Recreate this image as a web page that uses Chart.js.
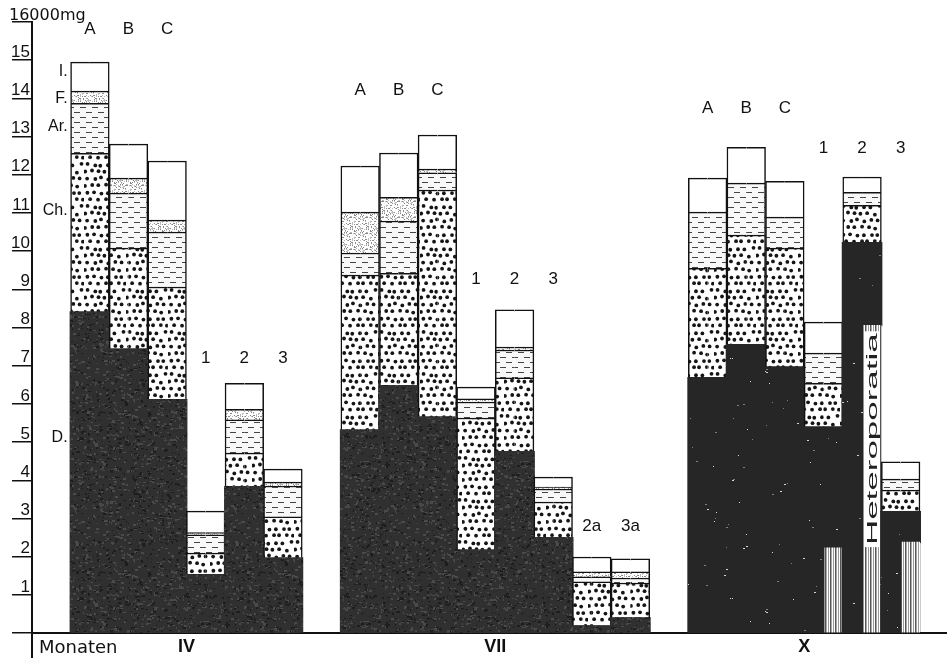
<!DOCTYPE html>
<html>
<head>
<meta charset="utf-8">
<script src="https://cdn.jsdelivr.net/npm/chart.js@4/dist/chart.umd.min.js"></script>
<style>
  html, body { margin: 0; padding: 0; background: #fff; }
  #wrap { width: 947px; height: 658px; position: relative; }
</style>
</head>
<body>
<div id="wrap"><canvas id="chart"></canvas></div>
<script>
// month groups and the bars in each (one empty slot before every group)
const months = ["IV", "VII", "X"];
const barsIV = ["A", "B", "C", "1", "2", "3"];
const barsVII = ["A", "B", "C", "1", "2", "3", "2a", "3a"];
const barsX = ["A", "B", "C", "1", "2", "3"];

// layer amounts in 1000 mg, bottom to top: D., Ch., Ar., F., I.
const dIV  = [8.40, 7.43, 6.10, 1.52, 3.82, 1.96];
const chIV = [4.16, 2.65, 2.96, 0.57, 0.89, 1.08];
const arIV = [1.31, 1.44, 1.44, 0.48, 0.87, 0.81];
const fIV  = [0.32, 0.39, 0.31, 0.06, 0.28, 0.10];
const iIV  = [0.76, 0.89, 1.55, 0.56, 0.68, 0.34];

const dVII  = [5.31, 6.47, 5.65, 2.17, 4.74, 2.49, 0.18, 0.39];
const chVII = [4.06, 2.95, 5.95, 3.46, 1.94, 0.94, 1.16, 0.92];
const arVII = [0.58, 1.37, 0.45, 0.42, 0.73, 0.34, 0.13, 0.13];
const fVII  = [1.07, 0.62, 0.10, 0.08, 0.08, 0.05, 0.13, 0.16];
const iVII  = [1.21, 1.16, 0.89, 0.31, 0.97, 0.26, 0.39, 0.34];

const dX  = [6.68, 7.54, 6.96, 5.39, 10.21, 3.17];
const chX = [2.87, 2.88, 3.12, 1.15, 0.99, 0.57];
const arX = [1.47, 1.36, 0.81, 0.79, 0.34, 0.29];
const fX  = [0, 0, 0, 0, 0, 0];
const iX  = [0.89, 0.94, 0.94, 0.81, 0.40, 0.45];

// Heteroporatia part of D in X bars 1-3 (drawn in the right half)
const heteroX = [0, 0, 0, 2.23, 8.06, 2.38];

const layerNames = ["D.", "Ch.", "Ar.", "F.", "I."];
const yTicks = [1, 2, 3, 4, 5, 6, 7, 8, 9, 10, 11, 12, 13, 14, 15];

// slots on the x axis
const groupBars = [barsIV, barsVII, barsX];
const slots = [];
let pos = 0;
groupBars.forEach((bars, g) => {
    pos++; // empty slot
    bars.forEach(b => { slots.push({ month: months[g], label: b, x: pos + 0.5 }); pos++; });
});
const xMax = pos + 0.7;

const layers = [
    [].concat(dIV, dVII, dX),
    [].concat(chIV, chVII, chX),
    [].concat(arIV, arVII, arX),
    [].concat(fIV, fVII, fX),
    [].concat(iIV, iVII, iX)
];
const hetero = slots.map(s => 0).slice(0, slots.length - heteroX.length).concat(heteroX);

// textures
const ctx = document.getElementById("chart").getContext("2d");
let seed = 12345;
function rnd() { seed = (seed * 16807) % 2147483647; return seed / 2147483647; }
function makePattern(w, h, draw) {
    const c = document.createElement("canvas");
    c.width = w; c.height = h;
    const g = c.getContext("2d");
    draw(g, w, h);
    return ctx.createPattern(c, "repeat");
}
const patD = makePattern(160, 160, (g, w, h) => {
    g.fillStyle = "#303030"; g.fillRect(0, 0, w, h);
    for (let i = 0; i < 1900; i++) {
        g.fillStyle = rnd() < 0.5 ? "#4a4a4a" : "#1e1e1e";
        g.fillRect(Math.floor(rnd() * w), Math.floor(rnd() * h), 1 + Math.floor(rnd() * 3), 1 + Math.floor(rnd() * 2));
    }
});
const patDX = makePattern(240, 240, (g, w, h) => {
    g.fillStyle = "#262626"; g.fillRect(0, 0, w, h);
    for (let i = 0; i < 110; i++) {
        g.fillStyle = rnd() < 0.5 ? "#d5d5d5" : "#808080";
        g.fillRect(Math.floor(rnd() * w), Math.floor(rnd() * h), 1 + Math.floor(rnd() * 2), 1);
    }
});
const patCh = makePattern(42, 42, (g, w, h) => {
    g.fillStyle = "#fff"; g.fillRect(0, 0, w, h);
    g.fillStyle = "#151515";
    for (let r = 0; r < 6; r++) {
        for (let c = 0; c < 6; c++) {
            const px = c * 7 + (r % 2) * 3.5 + (rnd() - 0.5) * 2.5;
            const py = r * 7 + 3.5 + (rnd() - 0.5) * 2.5;
            g.beginPath();
            g.arc((px + w) % w, py, 1.9, 0, Math.PI * 2);
            g.fill();
        }
    }
});
const patAr = makePattern(24, 10, (g, w, h) => {
    g.fillStyle = "#f8f8f8"; g.fillRect(0, 0, w, h);
    g.fillStyle = "#444";
    g.fillRect(2, 2, 6, 1); g.fillRect(14, 2, 6, 1);
    g.fillRect(8, 7, 6, 1); g.fillRect(20, 7, 4, 1); g.fillRect(0, 7, 2, 1);
});
const patF = makePattern(16, 16, (g, w, h) => {
    g.fillStyle = "#fff"; g.fillRect(0, 0, w, h);
    for (let i = 0; i < 90; i++) {
        g.fillStyle = rnd() < 0.5 ? "#888" : "#bbb";
        g.fillRect(Math.floor(rnd() * w), Math.floor(rnd() * h), 1, 1);
    }
});
const patStripe = makePattern(5, 8, (g, w, h) => {
    g.fillStyle = "#fff"; g.fillRect(0, 0, w, h);
    g.fillStyle = "#555"; g.fillRect(0, 0, 1.5, h);
    g.fillStyle = "#999"; g.fillRect(3, 0, 1, h);
});

const isX = c => slots[c.dataIndex] && slots[c.dataIndex].month === "X";
const fills = [c => isX(c) ? patDX : patD, patCh, patAr, patF, "#fff"];

// every bar is drawn as a left and a right half so that the
// Heteroporatia strip can sit in the right half of the X bars
function half(side, li, vals) {
    const b = 1.5;
    return {
        label: layerNames[li] + " " + side,
        stack: side,
        data: slots.map((s, k) => ({ x: s.x, y: vals[k] ? vals[k] : null })),
        backgroundColor: fills[li],
        borderColor: li === 0 ? "rgba(0,0,0,0)" : "#111",
        borderWidth: li === 0 ? 0 : (side === "L" ? { top: b, left: b, right: 0, bottom: 0 } : { top: b, right: b, left: 0, bottom: 0 }),
        borderSkipped: false,
        inflateAmount: li === 0 ? 1 : "auto",
        barPercentage: 1,
        categoryPercentage: 1
    };
}
const datasets = [];
layers.forEach((vals, li) => datasets.push(half("L", li, vals)));
datasets.push({
    label: "Heteroporatia",
    stack: "R",
    data: slots.map((s, k) => ({ x: s.x, y: hetero[k] ? hetero[k] : null })),
    backgroundColor: patStripe,
    borderWidth: 0,
    barPercentage: 1,
    categoryPercentage: 1
});
layers.forEach((vals, li) => {
    const v = li === 0 ? vals.map((d, k) => d - hetero[k]) : vals;
    datasets.push(half("R", li, v));
});
const heteroIndex = layers.length;

// where the free texts sit (in 1000 mg)
const textSpots = {
    rowIV: [15.8, 15.8, 15.8, 7.2, 7.2, 7.2],
    rowVII: [14.2, 14.2, 14.2, 9.25, 9.25, 9.25, 2.8, 2.8],
    rowX: [13.75, 13.75, 13.75, 12.7, 12.7, 12.7],
    layerY: [5.13, 11.05, 13.25, 14.0, 14.69],
    heteroBoxTop: 7.9,
    heteroBoxBottom: 2.25
};

const textPlugin = {
    id: "texts",
    afterDatasetsDraw(chart) {
        const g = chart.ctx;
        const xs = chart.scales.x, ys = chart.scales.y;
        const area = chart.chartArea;
        g.save();
        g.fillStyle = "#111";
        g.font = "17px 'Liberation Sans', Arial, sans-serif";
        g.textAlign = "center";
        g.textBaseline = "middle";
        const rows = { IV: textSpots.rowIV, VII: textSpots.rowVII, X: textSpots.rowX };
        const seen = { IV: 0, VII: 0, X: 0 };
        slots.forEach(s => {
            const yv = rows[s.month][seen[s.month]++];
            g.fillText(s.label, xs.getPixelForValue(s.x), ys.getPixelForValue(yv));
        });

        // layer names beside IV A
        g.textAlign = "right";
        g.font = "16px 'Liberation Sans', Arial, sans-serif";
        const lx = xs.getPixelForValue(slots[0].x - 0.5) - 3;
        layerNames.forEach((n, i) => g.fillText(n, lx, ys.getPixelForValue(textSpots.layerY[i])));

        // 16000mg
        g.textAlign = "left";
        g.textBaseline = "alphabetic";
        g.font = "16px 'DejaVu Sans', sans-serif";
        g.fillText("16000mg", 9, ys.getPixelForValue(16) - 2);

        // months below the axis
        g.textBaseline = "middle";
        g.textAlign = "center";
        g.font = "bold 18px 'Liberation Sans', Arial, sans-serif";
        months.forEach(m => {
            const ms = slots.filter(s => s.month === m);
            const cx = (xs.getPixelForValue(ms[0].x) + xs.getPixelForValue(ms[ms.length - 1].x)) / 2;
            g.fillText(m, cx, area.bottom + 14);
        });
        g.textAlign = "left";
        g.font = "18px 'DejaVu Sans', sans-serif";
        g.fillText("Monaten", area.left + 7, area.bottom + 15);

        // y axis continues below the base line
        g.strokeStyle = "#111";
        g.lineWidth = 2;
        g.beginPath();
        g.moveTo(area.left, area.bottom);
        g.lineTo(area.left, chart.height);
        g.stroke();

        // Heteroporatia label box on X 2
        const meta = chart.getDatasetMeta(heteroIndex);
        let best = null;
        meta.data.forEach((el, k) => { if (hetero[k] && (!best || hetero[k] > hetero[best.k])) best = { el, k }; });
        if (best) {
            const el = best.el;
            const top = ys.getPixelForValue(textSpots.heteroBoxTop);
            const bottom = ys.getPixelForValue(textSpots.heteroBoxBottom);
            const left = el.x - el.width / 2 + 2, w = el.width - 4;
            g.fillStyle = "#fff";
            g.fillRect(left, top, w, bottom - top);
            g.save();
            g.translate(left + w / 2, bottom - 2);
            g.rotate(-Math.PI / 2);
            g.font = "14px 'Liberation Sans', Arial, sans-serif";
            const tw = g.measureText("Heteroporatia").width;
            g.scale((bottom - top - 4) / tw, 1);
            g.fillStyle = "#222";
            g.textAlign = "left";
            g.textBaseline = "middle";
            g.fillText("Heteroporatia", 0, 1);
            g.restore();
        }
        g.restore();
    }
};

new Chart(ctx, {
    type: "bar",
    data: { datasets: datasets },
    options: {
        responsive: true,
        maintainAspectRatio: false,
        animation: false,
        layout: { padding: { top: 22, right: 0, bottom: 0, left: 0 } },
        plugins: { legend: { display: false }, tooltip: { enabled: false } },
        scales: {
            x: {
                type: "linear", min: 0, max: xMax, offset: false,
                afterBuildTicks: s => { s.ticks = [{ value: 0 }, { value: xMax }]; },
                ticks: { display: false },
                grid: { display: false, drawTicks: false },
                border: { display: true, color: "#111", width: 2 },
                afterFit: s => { s.height = 25; }
            },
            y: {
                min: 0, max: 16, stacked: true,
                afterBuildTicks: s => { s.ticks = [0].concat(yTicks, [16]).map(v => ({ value: v })); },
                ticks: {
                    callback: v => yTicks.includes(v) ? String(v) : "",
                    color: "#111",
                    font: { family: "'Liberation Sans', Arial, sans-serif", size: 17 },
                    padding: -18,
                    labelOffset: -8
                },
                grid: { drawOnChartArea: false, tickLength: 20, color: "#111", lineWidth: 1.5 },
                border: { display: true, color: "#111", width: 2 },
                afterFit: s => { s.width = 32; }
            }
        }
    },
    plugins: [textPlugin]
});
</script>
</body>
</html>
